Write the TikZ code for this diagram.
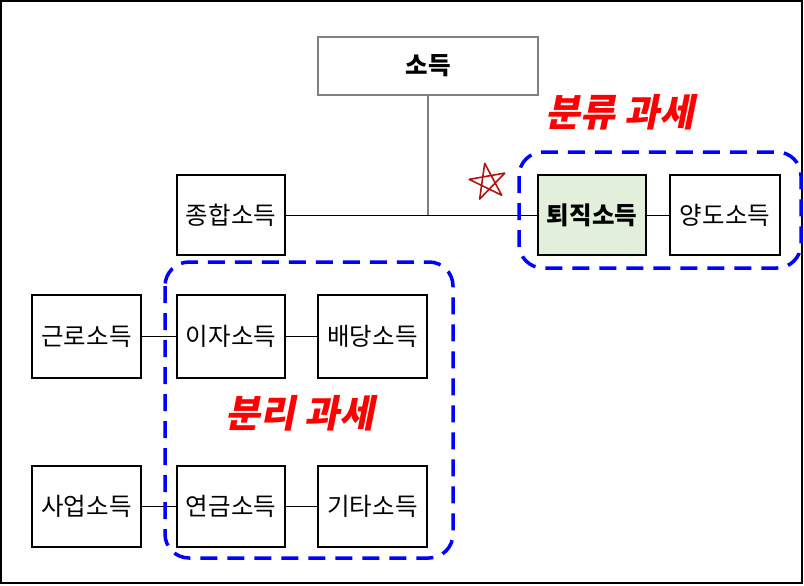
\documentclass[tikz,border=0pt]{standalone}
\usepackage{fontspec}
\usetikzlibrary{calc}
\setmainfont{Noto Sans CJK KR}
\newfontfamily\slfont[FakeSlant=0.2]{Noto Sans CJK KR}
\definecolor{starred}{RGB}{175,20,20}
\begin{document}
\begin{tikzpicture}[x=1pt,y=-1pt,
  bx/.style={draw,line width=1.3pt,inner sep=0pt,font=\fontsize{24.5}{28}\selectfont},
  grp/.style={draw=blue,line width=3.5pt,dash pattern=on 17pt off 10pt,rounded corners=24pt},
  lbl/.style={text=red,font=\fontsize{38}{42}\slfont\bfseries}]
\useasboundingbox (0,0) rectangle (804,586);
\draw[line width=1.2pt] (1,1) rectangle (802,583);
\node[bx,draw=gray,line width=1.5pt,minimum width=220pt,minimum height=58pt,font=\fontsize{24.5}{28}\selectfont\bfseries] (so) at (428,66) {소득};
\node[bx,minimum width=108pt,minimum height=80pt] (jh) at (231,215) {종합소득};
\node[bx,fill={rgb,255:red,226;green,239;blue,218},minimum width=108pt,minimum height=80pt,font=\fontsize{24.5}{28}\selectfont\bfseries] (tj) at (592,215) {퇴직소득};
\node[bx,minimum width=110pt,minimum height=80pt] (yd) at (725,215) {양도소득};
\node[bx,minimum width=109pt,minimum height=83pt] (gr) at (86.5,336.5) {근로소득};
\node[bx,minimum width=108pt,minimum height=83pt] (ij) at (231,336.5) {이자소득};
\node[bx,minimum width=109pt,minimum height=83pt] (bd) at (372.5,336.5) {배당소득};
\node[bx,minimum width=109pt,minimum height=81pt] (su) at (86.5,506.5) {사업소득};
\node[bx,minimum width=108pt,minimum height=81pt] (yg) at (231,506.5) {연금소득};
\node[bx,minimum width=109pt,minimum height=81pt] (gt) at (372.5,506.5) {기타소득};
\coordinate (j) at (428,215);
\draw[gray,line width=1.5pt] (so.south) -- (j);
\draw[line width=1pt] (jh) -- (tj);
\draw[line width=1pt] (tj) -- (yd);
\draw[line width=1pt] (gr) -- (ij);
\draw[line width=1pt] (ij) -- (bd);
\draw[line width=1pt] (su) -- (yg);
\draw[line width=1pt] (yg) -- (gt);
\draw[grp] (519,152) rectangle (801,268);
\draw[grp] (165,262) rectangle (453,558);
\node[lbl] (l1) at (620,112) {분류 과세};
\node[lbl] (l2) at (300,413) {분리 과세};
\coordinate (st) at (488,182);
\draw[draw=starred,line width=1.6pt,line join=round]
  ($(st)+(-100:19)$) -- ($(st)+(-100+144:19)$) -- ($(st)+(-100+288:19)$) -- ($(st)+(-100+72:19)$) -- ($(st)+(-100+216:19)$) -- cycle;
\end{tikzpicture}
\end{document}
